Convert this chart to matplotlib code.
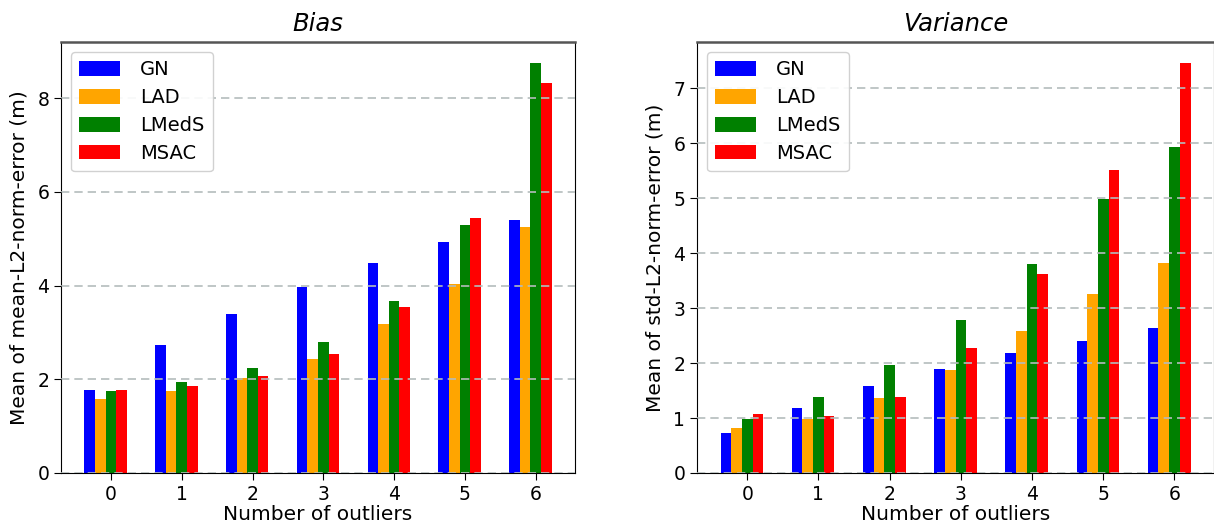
import numpy as np
import matplotlib
matplotlib.use("Agg")
import matplotlib.pyplot as plt

outliers = [0, 1, 2, 3, 4, 5, 6]
methods = ["GN", "LAD", "LMedS", "MSAC"]
colors = ["blue", "orange", "green", "red"]

bias_gn = [1.78, 2.74, 3.40, 3.96, 4.49, 4.94, 5.39]
bias_lad = [1.57, 1.74, 2.02, 2.44, 3.17, 4.04, 5.26]
bias_lmeds = [1.76, 1.95, 2.25, 2.79, 3.66, 5.30, 8.76]
bias_msac = [1.78, 1.85, 2.08, 2.55, 3.55, 5.45, 8.33]

var_gn = [0.72, 1.18, 1.58, 1.90, 2.18, 2.41, 2.63]
var_lad = [0.81, 0.99, 1.36, 1.88, 2.59, 3.25, 3.83]
var_lmeds = [0.99, 1.38, 1.96, 2.79, 3.81, 4.99, 5.94]
var_msac = [1.07, 1.03, 1.38, 2.27, 3.63, 5.52, 7.47]

W, H = 1214, 529
fig = plt.figure(figsize=(W / 100, H / 100), dpi=100)
ax_b = fig.add_axes([61 / W, (H - 473) / H, 514 / W, 431 / H])
ax_v = fig.add_axes([697 / W, (H - 473) / H, 517 / W, 431 / H])

width = 0.15
offsets = [-2, -1, 0, 1]
x = np.arange(len(outliers))


def draw(ax, series, title, ylabel):
    for vals, off, col, name in zip(series, offsets, colors, methods):
        ax.bar(x + off * width, vals, width, color=col, label=name)
    ax.set_xticks(x)
    ax.set_xticklabels([str(o) for o in outliers])
    ax.set_title(title, fontstyle="italic", fontsize=17.5, pad=8)
    ax.set_xlabel("Number of outliers", fontsize=14.5, labelpad=1)
    ax.set_ylabel(ylabel, fontsize=14.5, labelpad=6)
    ax.tick_params(labelsize=13.5, length=5)
    ax.grid(axis="y", linestyle="--", color="#b4bcbc", linewidth=1.2,
            dashes=(5, 3))
    ax.set_axisbelow(False)
    ax.spines["top"].set_color("#555555")
    ax.spines["top"].set_linewidth(1.8)
    ax.legend(loc="upper left", fontsize=14, handlelength=2.1,
              handleheight=0.8, handletextpad=1.0, borderpad=0.45,
              labelspacing=0.45, framealpha=0.9)


draw(ax_b, [bias_gn, bias_lad, bias_lmeds, bias_msac], "Bias",
     "Mean of mean-L2-norm-error (m)")
draw(ax_v, [var_gn, var_lad, var_lmeds, var_msac], "Variance",
     "Mean of std-L2-norm-error (m)")

fig.savefig("out.png", dpi=100)
